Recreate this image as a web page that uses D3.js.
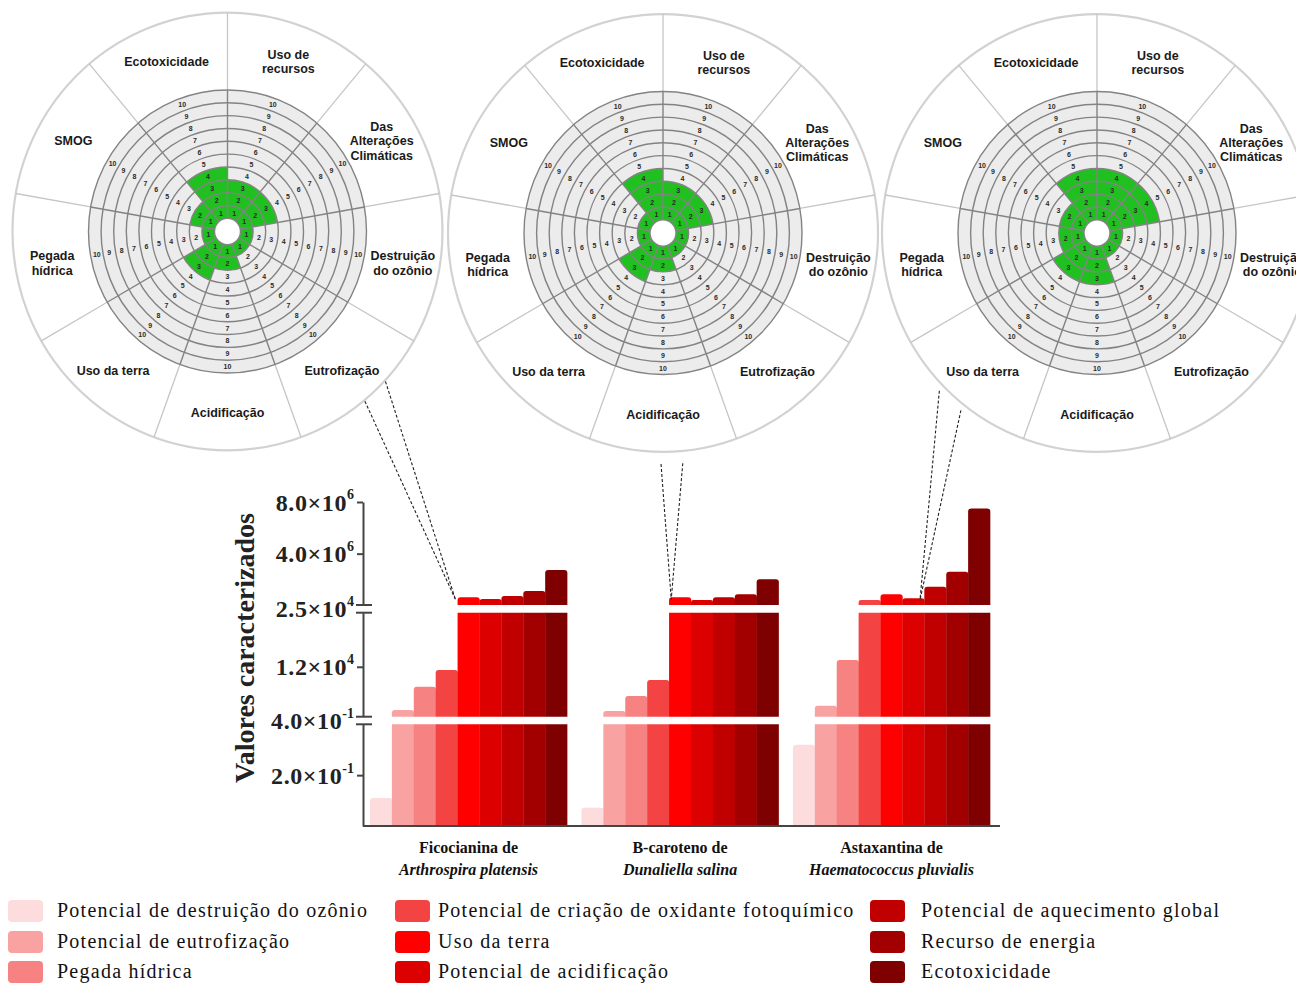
<!DOCTYPE html>
<html>
<head>
<meta charset="utf-8">
<script src="https://cdn.jsdelivr.net/npm/d3@7"></script>
<style>
  html, body { margin: 0; padding: 0; background: #fff; }
  svg { display: block; }
</style>
</head>
<body>
<svg id="chart" width="1296" height="987"></svg>
<script>
// ---- Radial score charts: impact categories clockwise from 12 o'clock ----
const radialCategories = ["Uso de recursos", "Das Alterações Climáticas", "Destruição do ozônio", "Eutrofização",
  "Acidificação", "Uso da terra", "Pegada hídrica", "SMOG", "Ecotoxicidade"];
const radialLabelLines = [["Uso de", "recursos"], ["Das", "Alterações", "Climáticas"], ["Destruição", "do ozônio"],
  ["Eutrofização"], ["Acidificação"], ["Uso da terra"], ["Pegada", "hídrica"], ["SMOG"], ["Ecotoxicidade"]];
const scoreLevels = [1, 2, 3, 4, 5, 6, 7, 8, 9, 10];
const ficocianinaScores = [3, 3, 1, 1, 2, 3, 1, 2, 4];
const betacarotenoScores = [3, 3, 1, 1, 2, 3, 1, 1, 4];
const astaxantinaScores = [4, 4, 1, 1, 3, 3, 2, 2, 4];

// ---- Characterised values (bar chart) ----
const productNames = ["Ficocianina de", "B-caroteno de", "Astaxantina de"];
const productSpecies = ["Arthrospira platensis", "Dunaliella salina", "Haematococcus pluvialis"];
const impactSeries = ["Potencial de destruição do ozônio", "Potencial de eutrofização", "Pegada hídrica",
  "Potencial de criação de oxidante fotoquímico", "Uso da terra", "Potencial de acidificação",
  "Potencial de aquecimento global", "Recurso de energia", "Ecotoxicidade"];
const seriesColors = ["#fcdcdc", "#f8a2a2", "#f68282", "#f44343", "#ff0000", "#dc0000", "#c00000", "#a20000", "#7e0000"];
const ficocianinaValues = [0.11, 1600, 7200, 11200, 6.2e5, 4.9e5, 7.2e5, 1.11e6, 2.74e6];
const betacarotenoValues = [0.072, 1370, 5000, 8800, 6.2e5, 4.1e5, 6.2e5, 8.5e5, 2.01e6];
const astaxantinaValues = [0.32, 2650, 13600, 4.1e5, 8.5e5, 5.4e5, 1.44e6, 2.6e6, 7.5e6];

// ---- Broken y axis ----
const yTickValues = [0.2, 0.4, 1.2e4, 2.5e4, 4e6, 8e6];
const yTickMantissa = ["2.0", "4.0", "1.2", "2.5", "4.0", "8.0"];
const yTickExponent = ["-1", "-1", "4", "4", "6", "6"];

const svg = d3.select("#chart");

// ===================== Radial charts =====================
const radialCharts = [
  { cx: 227.5, cy: 231.5, scores: ficocianinaScores },
  { cx: 663, cy: 233, scores: betacarotenoScores },
  { cx: 1097, cy: 233, scores: astaxantinaScores }
];
const R_OUT = 215, R_GRID = 139, R_HOLE = 13, R_LABEL = 178, STRETCH_Y = 1.018;
const ring = d3.scaleLinear().domain([0, 10]).range([R_HOLE, R_GRID]);
const sectorAngle = d3.scaleLinear().domain([0, radialCategories.length]).range([0, 2 * Math.PI]);
const polar = (r, a) => [r * Math.sin(a), -r * Math.cos(a)];

function drawRadial(chart) {
  const g = svg.append("g").attr("transform", `translate(${chart.cx},${chart.cy}) scale(1,${STRETCH_Y})`);
  const n = radialCategories.length;

  g.append("circle").attr("r", R_OUT).attr("fill", "#fff").attr("stroke", "#d2d2d2").attr("stroke-width", 2.2);

  // separators in the label band
  d3.range(n).forEach(i => {
    const a = sectorAngle(i);
    const [x1, y1] = polar(R_GRID, a), [x2, y2] = polar(R_OUT, a);
    g.append("line").attr("x1", x1).attr("y1", y1).attr("x2", x2).attr("y2", y2)
      .attr("stroke", "#c6c6c6").attr("stroke-width", 1.3);
  });

  g.append("circle").attr("r", R_GRID).attr("fill", "#ececec");

  // score sectors
  const arc = d3.arc();
  g.selectAll("path.score").data(chart.scores).join("path")
    .attr("class", "score")
    .attr("fill", "#21c021")
    .attr("d", (s, i) => arc({ innerRadius: R_HOLE, outerRadius: ring(s), startAngle: sectorAngle(i), endAngle: sectorAngle(i + 1) }));

  g.append("circle").attr("r", R_HOLE).attr("fill", "#fff");

  // rings
  g.selectAll("circle.ring").data([0].concat(scoreLevels)).join("circle")
    .attr("class", "ring").attr("r", d => ring(d))
    .attr("fill", "none").attr("stroke", "#838383").attr("stroke-width", 1.4);

  // radial lines of the grid
  d3.range(n).forEach(i => {
    const a = sectorAngle(i);
    const [x1, y1] = polar(R_HOLE, a), [x2, y2] = polar(R_GRID, a);
    g.append("line").attr("x1", x1).attr("y1", y1).attr("x2", x2).attr("y2", y2)
      .attr("stroke", "#838383").attr("stroke-width", 1.4);
  });

  // level numbers along each sector
  d3.range(n).forEach(i => {
    const a = (sectorAngle(i) + sectorAngle(i + 1)) / 2;
    scoreLevels.forEach(k => {
      const [x, y] = polar(ring(k - 0.5), a);
      g.append("text").attr("x", x).attr("y", y).attr("dy", "0.35em")
        .attr("text-anchor", "middle")
        .attr("font-family", "'Liberation Sans', Arial, sans-serif")
        .attr("font-size", 7).attr("font-weight", "bold")
        .attr("fill", "#2a2a2a")
        .text(k);
    });
  });

  // category labels
  radialLabelLines.forEach((lines, i) => {
    const a = (sectorAngle(i) + sectorAngle(i + 1)) / 2;
    const [x, y] = polar(R_LABEL, a);
    const lh = 14;
    const t = g.append("text").attr("text-anchor", "middle")
      .attr("font-family", "'Liberation Sans', Arial, sans-serif")
      .attr("font-size", 12.5).attr("font-weight", "bold").attr("fill", "#1a1a1a");
    lines.forEach((ln, j) => {
      t.append("tspan").attr("x", x)
        .attr("y", y + (j - (lines.length - 1) / 2) * lh)
        .attr("dy", "0.35em").text(ln);
    });
  });
}
radialCharts.forEach(drawRadial);

// ===================== Bar chart =====================
const productValues = [ficocianinaValues, betacarotenoValues, astaxantinaValues];
const AXIS_X = 363, BASE_Y = 826;

const x0 = d3.scaleBand().domain(productNames).range([AXIS_X, 997]).paddingInner(0.068).paddingOuter(0.033);
const x1 = d3.scaleBand().domain(impactSeries).range([0, x0.bandwidth()]);

// three linear pieces of the broken axis
const segments = [
  d3.scaleLinear().domain([0, 0.4]).range([BASE_Y, 724.3]),
  d3.scaleLinear().domain([0.4, 2.5e4]).range([716.7, 612.7]),
  d3.scaleLinear().domain([2.5e4, 8e6]).range([605, 502])
];
function segmentOf(v) {
  return segments.find(s => v <= s.domain()[1]) || segments[2];
}
function valueY(v) { return segmentOf(v)(v); }

function barPath(x, w, yTop, yBot, rounded) {
  const r = rounded ? Math.min(3, (yBot - yTop) / 2) : 0;
  return `M${x},${yBot}V${yTop + r}` + (r ? `Q${x},${yTop} ${x + r},${yTop}` : "") +
    `H${x + w - r}` + (r ? `Q${x + w},${yTop} ${x + w},${yTop + r}` : "") + `V${yBot}Z`;
}

const bars = svg.append("g");
productNames.forEach((p, gi) => {
  productValues[gi].forEach((v, si) => {
    const x = x0(p) + x1(impactSeries[si]);
    const w = x1.bandwidth() + 0.3;
    segments.forEach(seg => {
      const [d0, d1] = seg.domain();
      if (v <= d0) return;
      const top = Math.min(v, d1);
      bars.append("path")
        .attr("d", barPath(x, w, seg(top), seg(d0), v <= d1))
        .attr("fill", seriesColors[si]);
    });
  });
});

// y axis pieces
const axisColor = "#444";
const segTicks = [[0.2], [1.2e4], [4e6, 8e6]];
segments.forEach((seg, i) => {
  const ax = svg.append("g").attr("transform", `translate(${AXIS_X},0)`)
    .call(d3.axisLeft(seg).tickValues(segTicks[i]).tickSize(6).tickSizeOuter(0).tickFormat(() => ""));
  ax.select(".domain").attr("stroke", axisColor).attr("stroke-width", 2);
  ax.selectAll(".tick line").attr("stroke", axisColor).attr("stroke-width", 2);
});
// break marks
[segments[0].range()[1], segments[1].range()[0], segments[1].range()[1], segments[2].range()[0]].forEach(y => {
  svg.append("line").attr("x1", AXIS_X - 7).attr("x2", AXIS_X + 9).attr("y1", y).attr("y2", y)
    .attr("stroke", axisColor).attr("stroke-width", 2);
});

// tick labels
function tickY(v) {
  if (v === 0.4) return (segments[0](0.4) + segments[1](0.4)) / 2;
  if (v === 2.5e4) return (segments[1](2.5e4) + segments[2](2.5e4)) / 2;
  return valueY(v);
}
yTickValues.forEach((v, i) => {
  const t = svg.append("text")
    .attr("x", AXIS_X - 9).attr("y", tickY(v)).attr("dy", "0.36em")
    .attr("text-anchor", "end")
    .attr("font-family", "'Liberation Serif', 'Times New Roman', serif")
    .attr("font-weight", "bold").attr("font-size", 24).attr("letter-spacing", 0.6).attr("fill", "#222");
  t.append("tspan").text(yTickMantissa[i] + "×10");
  t.append("tspan").attr("font-size", 14).attr("dy", "-0.8em").attr("letter-spacing", 0).text(yTickExponent[i]);
});

// y title
svg.append("text")
  .attr("transform", `translate(254,648) rotate(-90)`)
  .attr("text-anchor", "middle")
  .attr("font-family", "'Liberation Serif', 'Times New Roman', serif")
  .attr("font-weight", "bold").attr("font-size", 28).attr("fill", "#222")
  .text("Valores caracterizados");

// x axis
const xAxis = svg.append("g").attr("transform", `translate(0,${BASE_Y})`)
  .call(d3.axisBottom(x0).tickSize(0).tickSizeOuter(0).tickFormat(() => ""));
xAxis.select(".domain").attr("stroke", axisColor).attr("stroke-width", 2)
  .attr("d", `M${AXIS_X},0H1000`);

productNames.forEach((p, i) => {
  const cx = x0(p) + x0.bandwidth() / 2;
  svg.append("text").attr("x", cx).attr("y", 853).attr("text-anchor", "middle")
    .attr("font-family", "'Liberation Serif', 'Times New Roman', serif")
    .attr("font-weight", "bold").attr("font-size", 16).attr("fill", "#111").text(p);
  svg.append("text").attr("x", cx).attr("y", 875).attr("text-anchor", "middle")
    .attr("font-family", "'Liberation Serif', 'Times New Roman', serif")
    .attr("font-weight", "bold").attr("font-style", "italic").attr("font-size", 16).attr("fill", "#111").text(productSpecies[i]);
});

// connectors from each radial chart to its bars
const connectorAngles = [[140.5, 133], [180.5, 175], [225.5, 218]];
const connectorStartR = [216, 227, 221];
const connectorTarget = [{ bar: 4, frac: -0.1 }, { bar: 4, frac: 0.1 }, { bar: 5, frac: 0.8 }];
radialCharts.forEach((c, i) => {
  const p = productNames[i];
  const tgt = connectorTarget[i];
  const tx = x0(p) + x1(impactSeries[tgt.bar]) + tgt.frac * x1.bandwidth();
  const ty = valueY(productValues[i][tgt.bar]) + 2;
  connectorAngles[i].forEach(deg => {
    const [dx, dy] = polar(connectorStartR[i], deg * Math.PI / 180);
    svg.append("line").attr("x1", c.cx + dx).attr("y1", c.cy + dy * STRETCH_Y).attr("x2", tx).attr("y2", ty)
      .attr("stroke", "#222").attr("stroke-width", 1.1).attr("stroke-dasharray", "3,2");
  });
});

// ===================== Legend =====================
const legendColumnX = [8, 395, 870];
const legendTextOffset = [49, 43, 51];
const legendRowY = [911, 942, 972];
impactSeries.forEach((s, i) => {
  const col = Math.floor(i / 3), row = i % 3;
  const x = legendColumnX[col], y = legendRowY[row];
  svg.append("rect").attr("x", x).attr("y", y - 11).attr("width", 35).attr("height", 22)
    .attr("rx", 4).attr("fill", seriesColors[i]);
  svg.append("text").attr("x", x + legendTextOffset[col]).attr("y", y).attr("dy", "0.32em")
    .attr("font-family", "'Liberation Serif', 'Times New Roman', serif")
    .attr("font-size", 20).attr("letter-spacing", 1.25).attr("fill", "#111").text(s);
});
</script>
</body>
</html>
